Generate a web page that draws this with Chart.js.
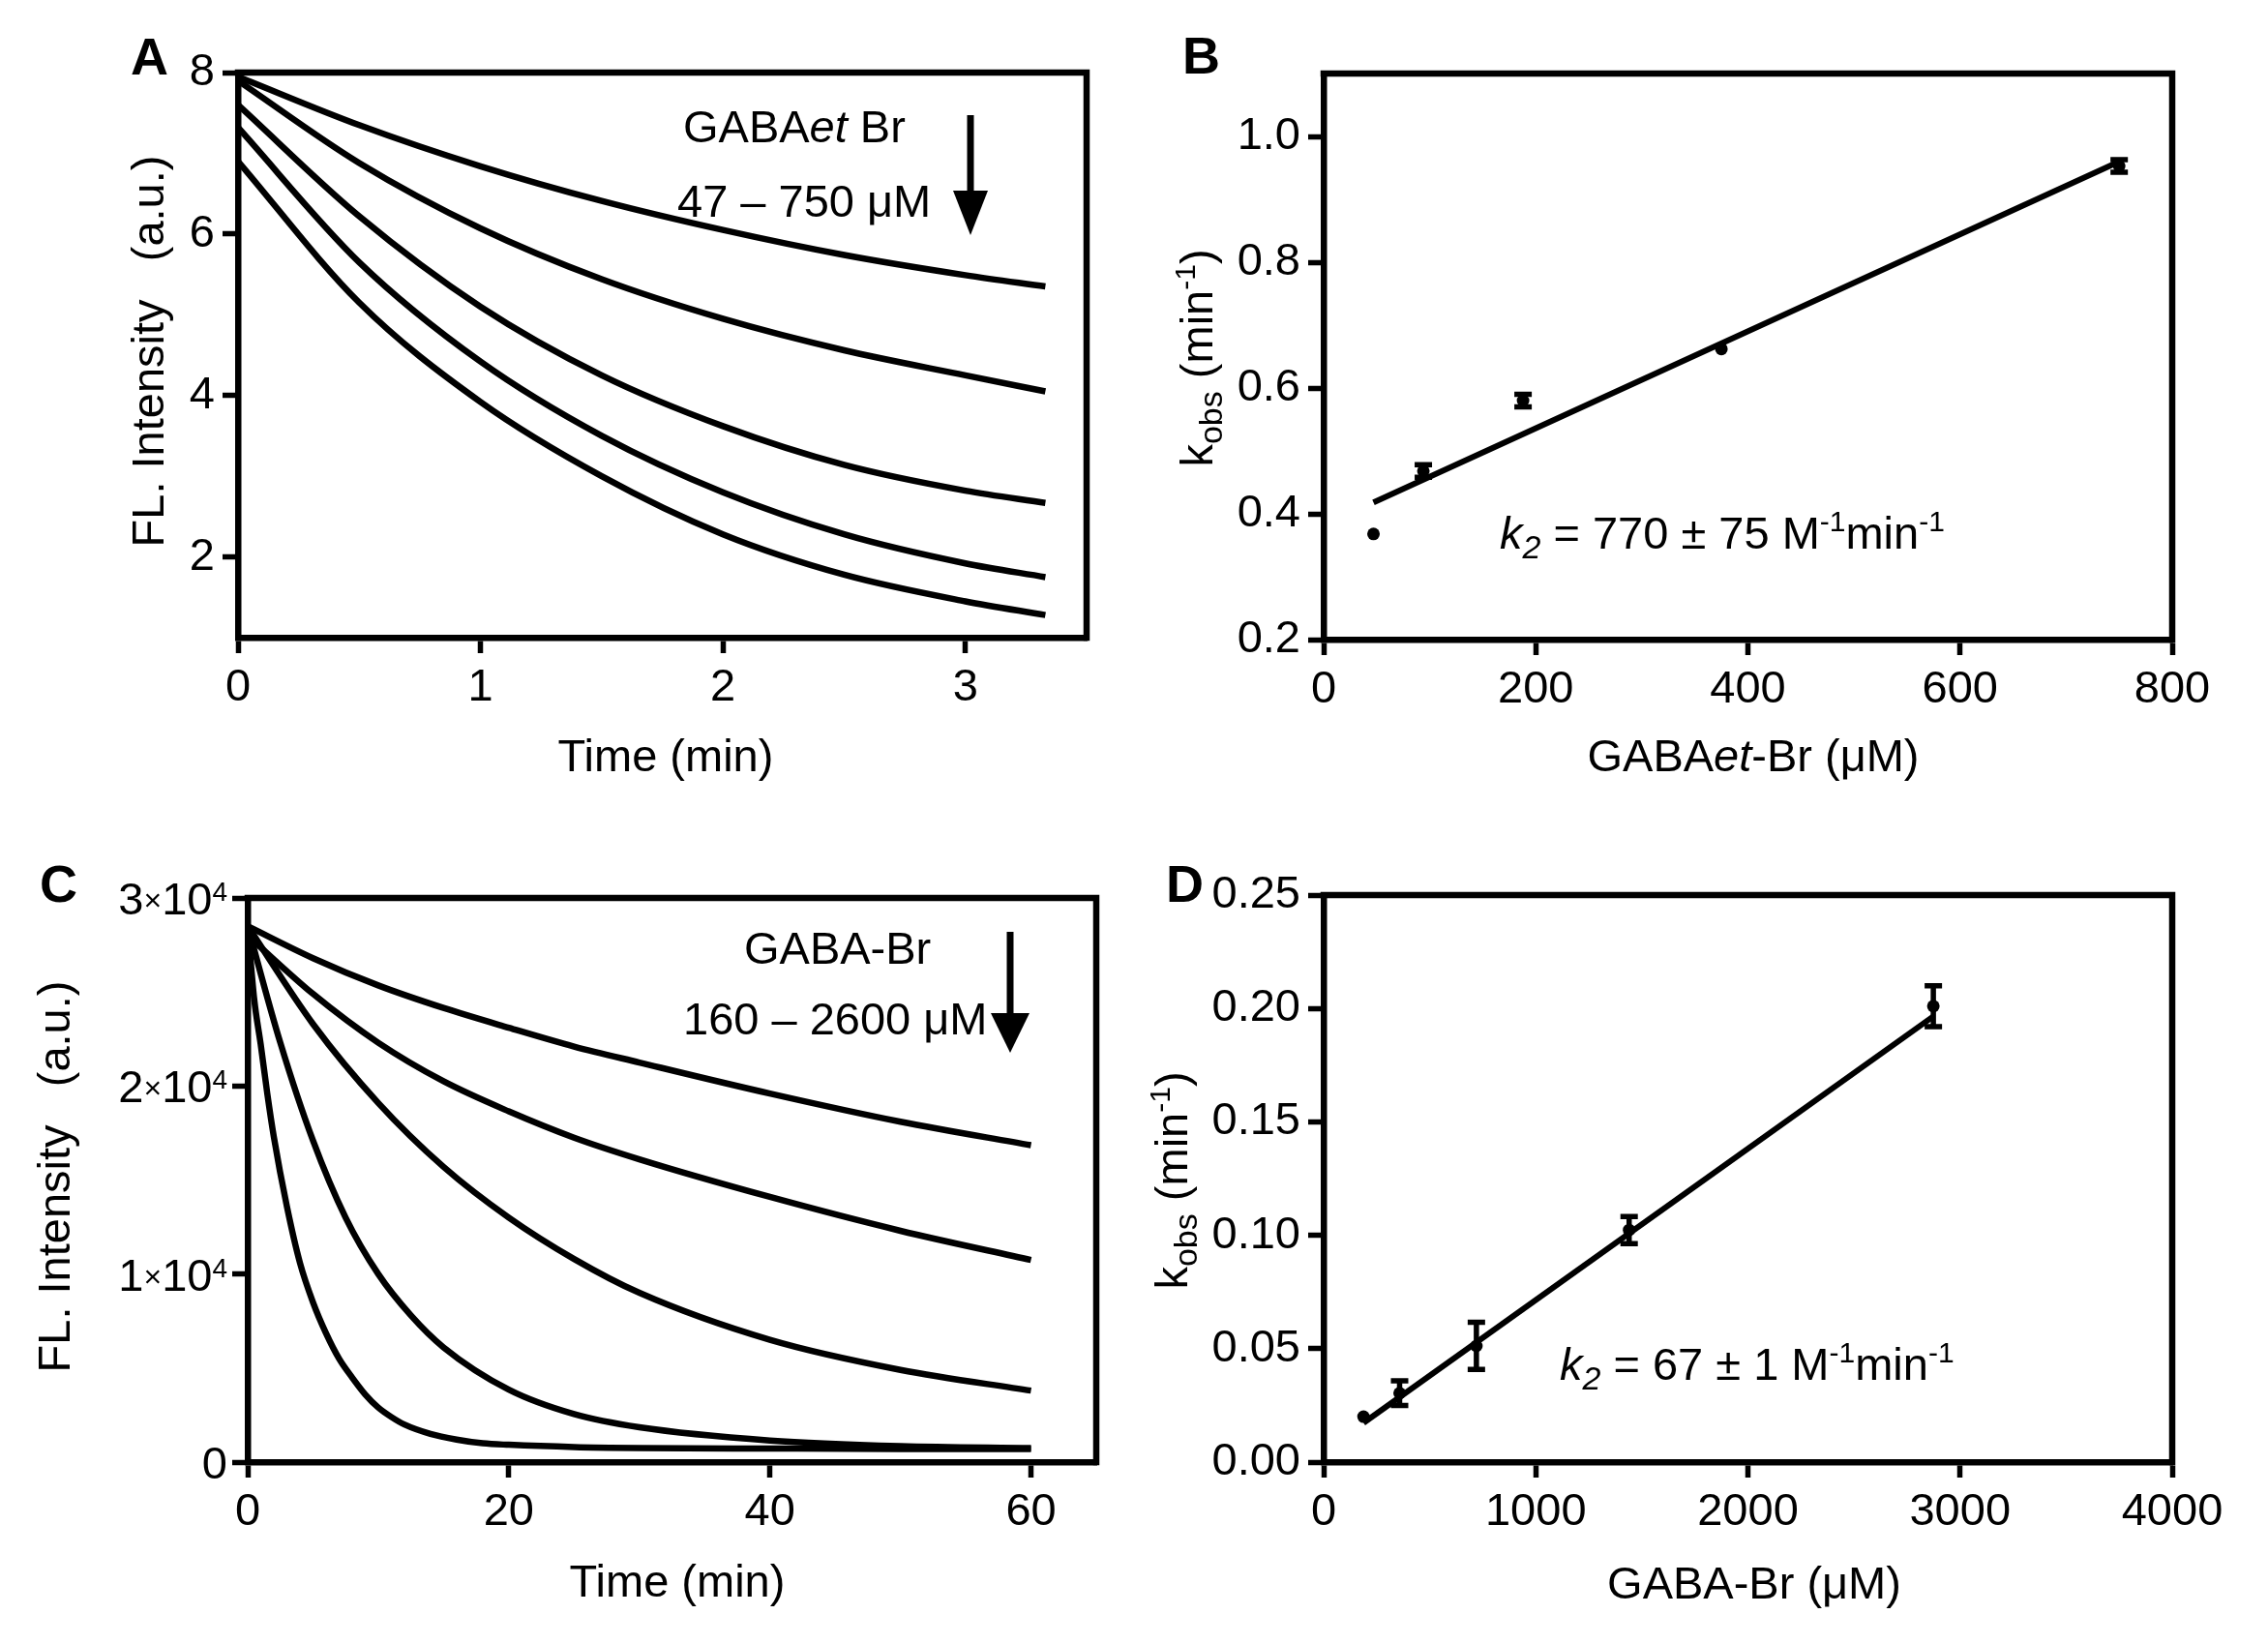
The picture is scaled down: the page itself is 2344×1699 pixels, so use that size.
<!DOCTYPE html>
<html>
<head>
<meta charset="utf-8">
<title>Kinetics panels A-D</title>
<script src="https://cdn.jsdelivr.net/npm/chart.js@4.4.1/dist/chart.umd.min.js"></script>
<style>
  html, body { margin: 0; padding: 0; background: #fff; }
  body { width: 2344px; height: 1699px; position: relative; overflow: hidden; }
  canvas { position: absolute; }
</style>
</head>
<body>
<canvas id="chartA" width="1172" height="850" style="left:0px;top:0px"></canvas>
<canvas id="chartB" width="1172" height="850" style="left:1172px;top:0px"></canvas>
<canvas id="chartC" width="1172" height="849" style="left:0px;top:850px"></canvas>
<canvas id="chartD" width="1172" height="849" style="left:1172px;top:850px"></canvas>
<script>
// ---- data: panel A (GABAet-Br decay traces, a.u.)
const timeA = [0, 0.5, 1, 1.5, 2, 2.5, 3, 3.33];
const traceA1 = [7.95, 7.35, 6.84, 6.41, 6.05, 5.74, 5.49, 5.35];
const traceA2 = [7.90, 6.88, 6.07, 5.44, 4.95, 4.56, 4.25, 4.05];
const traceA3 = [7.60, 6.22, 5.10, 4.25, 3.62, 3.14, 2.82, 2.67];
const traceA4 = [7.32, 5.65, 4.42, 3.50, 2.80, 2.28, 1.92, 1.75];
const traceA5 = [6.90, 5.15, 3.92, 3.00, 2.28, 1.78, 1.45, 1.28];
const xTicksA = [0, 1, 2, 3];
const yTicksA = [2, 4, 6, 8];

// ---- data: panel B (kobs vs GABAet-Br)
const concB = [47, 94, 188, 375, 750];
const kobsB = [0.368, 0.468, 0.580, 0.662, 0.953];
const errB = [0.002, 0.010, 0.010, 0.002, 0.010];
const fitConcB = [47, 750];
const fitKobsB = [0.418, 0.960];
const xTicksB = [0, 200, 400, 600, 800];
const yTicksB = [0.2, 0.4, 0.6, 0.8, 1.0];
const yLabelsB = ['0.2', '0.4', '0.6', '0.8', '1.0'];

// ---- data: panel C (GABA-Br decay traces)
const timeC = [0, 5, 10, 15, 20, 25, 30, 40, 50, 60];
const traceC1 = [28500, 26800, 25350, 24150, 23100, 22100, 21250, 19600, 18100, 16850];
const traceC2 = [28000, 24900, 22300, 20250, 18650, 17250, 16100, 14100, 12300, 10750];
const traceC3 = [28500, 23300, 19100, 15700, 13000, 10800, 9000, 6500, 4900, 3800];
const timeC4 = [0, 2.5, 5, 7.5, 10, 12.5, 15, 20, 25, 30, 40, 50, 60];
const traceC4 = [28500, 22300, 17100, 13000, 10000, 7800, 6100, 3850, 2550, 1850, 1150, 850, 750];
const timeC5 = [0, 0.5, 1, 1.5, 2, 3, 4, 5, 6, 7, 8, 9, 10, 11, 12, 14, 16, 18, 20, 25, 30, 40, 50, 60];
const traceC5 = [28500, 24600, 22200, 19600, 17300, 13600, 10600, 8500, 6850, 5500, 4500, 3600,
                 2900, 2400, 2000, 1500, 1200, 1000, 920, 800, 750, 720, 700, 700];
const xTicksC = [0, 20, 40, 60];
const yTicksC = [0, 10000, 20000, 30000];
const yMantC = ['0', '1', '2', '3'];

// ---- data: panel D (kobs vs GABA-Br)
const concD = [188, 358, 720, 1440, 2874];
const kobsD = [0.0200, 0.0304, 0.0512, 0.1023, 0.2010];
const errD = [0.0008, 0.0054, 0.0104, 0.0060, 0.0090];
const fitConcD = [188, 2874];
const fitKobsD = [0.0173, 0.1965];
const xTicksD = [0, 1000, 2000, 3000, 4000];
const yTicksD = [0, 0.05, 0.10, 0.15, 0.20, 0.25];
const yLabelsD = ['0.00', '0.05', '0.10', '0.15', '0.20', '0.25'];

const FONT = '"Liberation Sans", Arial, Helvetica, sans-serif';
Chart.defaults.font.family = FONT;
Chart.defaults.font.size = 47;
Chart.defaults.color = '#000';

// draw a run of text pieces (italic / sub / sup) starting at x or centred on x
function drawRich(ctx, parts, x, y, align, size) {
  size = size || 47;
  const fontOf = p => (p.i ? 'italic ' : '') + (p.b ? 'bold ' : '') +
    (p.sub ? 34 : p.sup ? 30 : size) + 'px ' + FONT;
  let w = 0;
  parts.forEach(p => { ctx.font = fontOf(p); p.w = ctx.measureText(p.t).width; w += p.w; });
  let cx = align === 'center' ? x - w / 2 : (align === 'right' ? x - w : x);
  ctx.textAlign = 'left';
  ctx.textBaseline = 'alphabetic';
  parts.forEach(p => {
    ctx.font = fontOf(p);
    const dy = p.sub ? 10 : (p.sup ? -18 : 0);
    ctx.fillText(p.t, cx, y + dy);
    cx += p.w;
  });
}

function drawRotated(ctx, parts, x, y) {
  ctx.save();
  ctx.translate(x, y);
  ctx.rotate(-Math.PI / 2);
  drawRich(ctx, parts, 0, 0, 'center');
  ctx.restore();
}

function drawArrow(ctx, x, y0, yHead, yTip, half) {
  ctx.lineWidth = 7;
  ctx.beginPath();
  ctx.moveTo(x, y0);
  ctx.lineTo(x, yHead + 4);
  ctx.stroke();
  ctx.beginPath();
  ctx.moveTo(x - half, yHead);
  ctx.lineTo(x + half, yHead);
  ctx.lineTo(x, yTip);
  ctx.closePath();
  ctx.fill();
}

// box, error bars and all the hand-placed text of a panel
const decorPlugin = {
  id: 'decor',
  afterDatasetsDraw(chart, args, o) {
    const ctx = chart.ctx;
    const a = chart.chartArea;
    ctx.save();
    ctx.strokeStyle = '#000';
    ctx.fillStyle = '#000';
    // top and right frame lines
    ctx.lineWidth = 6.5;
    ctx.lineCap = 'square';
    ctx.beginPath();
    ctx.moveTo(a.left, a.top);
    ctx.lineTo(a.right, a.top);
    ctx.lineTo(a.right, a.bottom);
    ctx.stroke();
    // error bars
    if (o.err) {
      const xs = chart.scales.x, ys = chart.scales.y;
      ctx.lineWidth = 5.5;
      ctx.lineCap = 'butt';
      o.err.x.forEach((xv, i) => {
        const px = xs.getPixelForValue(xv);
        const yHi = ys.getPixelForValue(o.err.y[i] + o.err.e[i]);
        const yLo = ys.getPixelForValue(o.err.y[i] - o.err.e[i]);
        if (yLo - yHi < 6) return;
        ctx.beginPath();
        ctx.moveTo(px, yHi - 2.5); ctx.lineTo(px, yLo + 2.5);
        ctx.moveTo(px - 9, yHi); ctx.lineTo(px + 9, yHi);
        ctx.moveTo(px - 9, yLo); ctx.lineTo(px + 9, yLo);
        ctx.stroke();
      });
    }
    ctx.restore();
  },
  afterDraw(chart, args, o) {
    const ctx = chart.ctx;
    ctx.save();
    ctx.fillStyle = '#000';
    ctx.strokeStyle = '#000';
    // custom y tick labels with powers of ten (panel C)
    if (o.powerTicks) {
      const ys = chart.scales.y;
      o.powerTicks.values.forEach((v, i) => {
        const py = ys.getPixelForValue(v) + 17;
        const m = o.powerTicks.mant[i];
        const parts = m === '0' ? [{ t: '0' }] :
          [{ t: m }, { t: '\u00d7', sm: true }, { t: '10' }, { t: '4', sup: true }];
        const rx = o.powerTicks.right;
        // the multiplication sign is drawn smaller than the digits
        let w = 0;
        parts.forEach(p => {
          ctx.font = (p.sm ? 32 : p.sup ? 28 : 47) + 'px ' + FONT;
          p.w = ctx.measureText(p.t).width; w += p.w;
        });
        let cx = rx - w;
        ctx.textAlign = 'left';
        ctx.textBaseline = 'alphabetic';
        parts.forEach(p => {
          ctx.font = (p.sm ? 32 : p.sup ? 28 : 47) + 'px ' + FONT;
          ctx.fillText(p.t, cx, py + (p.sup ? -14 : (p.sm ? -4 : 0)));
          cx += p.w;
        });
      });
    }
    // page coordinates from here on
    ctx.translate(-o.ox, -o.oy);
    (o.texts || []).forEach(tx => {
      if (tx.rot) drawRotated(ctx, tx.parts, tx.x, tx.y);
      else drawRich(ctx, tx.parts, tx.x, tx.y, tx.align || 'left', tx.size);
    });
    if (o.arrow) {
      const ar = o.arrow;
      drawArrow(ctx, ar.x, ar.y0, ar.yHead, ar.yTip, ar.half);
    }
    ctx.restore();
  }
};

function axis(min, max, tickVals, tickLabels, fit, showLabels) {
  return {
    type: 'linear',
    min: min,
    max: max,
    afterBuildTicks: s => { s.ticks = tickVals.map(v => ({ value: v })); },
    afterFit: s => {
      if (fit.w) s.width = fit.w;
      if (fit.h) s.height = fit.h;
    },
    ticks: {
      display: showLabels !== false,
      padding: 8,
      maxRotation: 0,
      autoSkip: false,
      color: '#000',
      font: { size: 47 },
      callback: (v, i) => tickLabels[i]
    },
    grid: {
      display: true,
      drawOnChartArea: false,
      drawTicks: true,
      tickLength: 16,
      tickWidth: 5.5,
      color: '#000'
    },
    border: { display: true, width: 6.5, color: '#000' }
  };
}

// layout padding so the plot box lands on the given page rectangle
function padFor(box, ox, oy, cw, ch, yw, xh) {
  return {
    left: box.L - ox - yw,
    top: box.T - oy,
    right: ox + cw - box.R,
    bottom: oy + ch - box.B - xh
  };
}

function traceSet(xs, ys) {
  return {
    data: xs.map((x, i) => ({ x: x, y: ys[i] })),
    borderColor: '#000',
    borderWidth: 6.5,
    pointRadius: 0,
    fill: false,
    cubicInterpolationMode: 'monotone'
  };
}

function pointSet(xs, ys) {
  return {
    data: xs.map((x, i) => ({ x: x, y: ys[i] })),
    showLine: false,
    pointRadius: 6.5,
    pointStyle: 'circle',
    pointBackgroundColor: '#000',
    pointBorderColor: '#000',
    pointBorderWidth: 0
  };
}

function fitSet(xs, ys) {
  return {
    data: xs.map((x, i) => ({ x: x, y: ys[i] })),
    borderColor: '#000',
    borderWidth: 6,
    pointRadius: 0,
    fill: false
  };
}

function makeChart(id, ox, oy, cw, ch, box, yw, xh, scales, datasets, decor) {
  decor.ox = ox;
  decor.oy = oy;
  return new Chart(document.getElementById(id), {
    type: 'line',
    data: { datasets: datasets },
    options: {
      responsive: false,
      animation: false,
      devicePixelRatio: 1,
      layout: { padding: padFor(box, ox, oy, cw, ch, yw, xh) },
      plugins: { legend: { display: false }, tooltip: { enabled: false }, decor: decor },
      scales: scales
    },
    plugins: [decorPlugin]
  });
}

const yTitleFL = [{ t: 'FL. Intensity   (a.u.)' }];
const yTitleK = [{ t: 'k' }, { t: 'obs', sub: true }, { t: ' (min' }, { t: '-1', sup: true }, { t: ')' }];

// Panel A
makeChart('chartA', 0, 0, 1172, 850, { L: 246, T: 75, R: 1123, B: 659 }, 100, 90, {
  x: axis(0, 3.5, xTicksA, xTicksA.map(String), { h: 90 }),
  y: axis(1, 8, yTicksA, yTicksA.map(String), { w: 100 })
}, [
  traceSet(timeA, traceA1), traceSet(timeA, traceA2), traceSet(timeA, traceA3),
  traceSet(timeA, traceA4), traceSet(timeA, traceA5)
], {
  texts: [
    { parts: [{ t: 'A', b: true }], x: 135, y: 77, size: 54 },
    { parts: yTitleFL, x: 169, y: 363, rot: true },
    { parts: [{ t: 'Time (min)' }], x: 688, y: 797, align: 'center' },
    { parts: [{ t: 'GABA' }, { t: 'et', i: true }, { t: ' Br' }], x: 706, y: 147 },
    { parts: [{ t: '47 \u2013 750 \u03bcM' }], x: 700, y: 224 }
  ],
  arrow: { x: 1003, y0: 119, yHead: 197, yTip: 243, half: 18 }
});

// Panel B
makeChart('chartB', 1172, 0, 1172, 850, { L: 1368, T: 76, R: 2245, B: 661 }, 130, 90, {
  x: axis(0, 800, xTicksB, xTicksB.map(String), { h: 90 }),
  y: axis(0.2, 1.1, yTicksB, yLabelsB, { w: 130 })
}, [
  fitSet(fitConcB, fitKobsB), pointSet(concB, kobsB)
], {
  err: { x: concB, y: kobsB, e: errB },
  texts: [
    { parts: [{ t: 'B', b: true }], x: 1222, y: 76, size: 54 },
    { parts: yTitleK, x: 1253, y: 370, rot: true },
    { parts: [{ t: 'GABA' }, { t: 'et', i: true }, { t: '-Br (\u03bcM)' }], x: 1812, y: 797, align: 'center' },
    { parts: [{ t: 'k', i: true }, { t: '2', sub: true, i: true }, { t: ' = 770 \u00b1 75 M' },
              { t: '-1', sup: true }, { t: 'min' }, { t: '-1', sup: true }], x: 1550, y: 567 }
  ]
});

// Panel C
makeChart('chartC', 0, 850, 1172, 849, { L: 256, T: 928, R: 1133, B: 1511 }, 100, 90, {
  x: axis(0, 65, xTicksC, xTicksC.map(String), { h: 90 }),
  y: axis(0, 30000, yTicksC, yTicksC.map(String), { w: 100 }, false)
}, [
  traceSet(timeC, traceC1), traceSet(timeC, traceC2), traceSet(timeC, traceC3),
  traceSet(timeC4, traceC4), traceSet(timeC5, traceC5)
], {
  powerTicks: { values: yTicksC, mant: yMantC, right: 235 },
  texts: [
    { parts: [{ t: 'C', b: true }], x: 41, y: 932, size: 54 },
    { parts: yTitleFL, x: 72, y: 1216, rot: true },
    { parts: [{ t: 'Time (min)' }], x: 700, y: 1650, align: 'center' },
    { parts: [{ t: 'GABA-Br' }], x: 769, y: 996 },
    { parts: [{ t: '160 \u2013 2600 \u03bcM' }], x: 706, y: 1069 }
  ],
  arrow: { x: 1044, y0: 963, yHead: 1047, yTip: 1088, half: 20 }
});

// Panel D
makeChart('chartD', 1172, 850, 1172, 849, { L: 1368, T: 925, R: 2245, B: 1511 }, 150, 90, {
  x: axis(0, 4000, xTicksD, xTicksD.map(String), { h: 90 }),
  y: axis(0, 0.25, yTicksD, yLabelsD, { w: 150 })
}, [
  fitSet(fitConcD, fitKobsD), pointSet(concD, kobsD)
], {
  err: { x: concD, y: kobsD, e: errD },
  texts: [
    { parts: [{ t: 'D', b: true }], x: 1205, y: 932, size: 54 },
    { parts: yTitleK, x: 1227, y: 1220, rot: true },
    { parts: [{ t: 'GABA-Br (\u03bcM)' }], x: 1813, y: 1652, align: 'center' },
    { parts: [{ t: 'k', i: true }, { t: '2', sub: true, i: true }, { t: ' = 67 \u00b1 1 M' },
              { t: '-1', sup: true }, { t: 'min' }, { t: '-1', sup: true }], x: 1612, y: 1426 }
  ]
});
</script>
</body>
</html>
